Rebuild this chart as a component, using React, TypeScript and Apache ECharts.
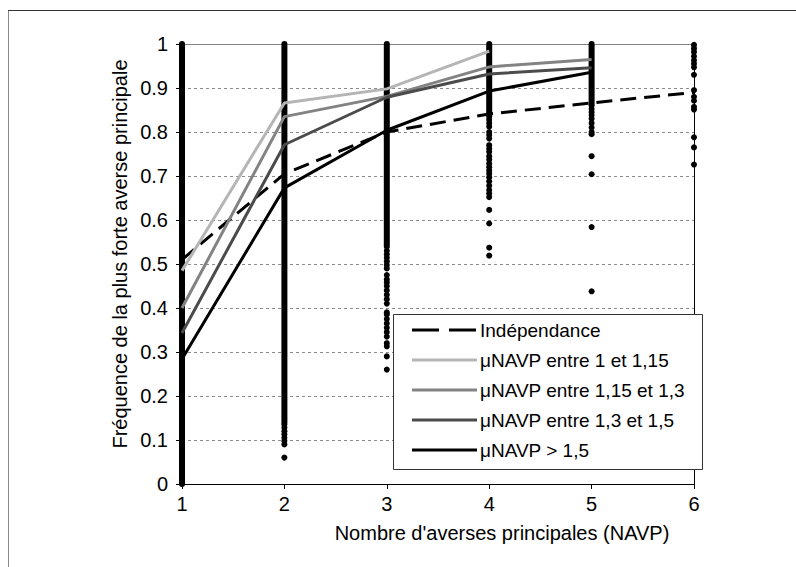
import React, { useEffect, useRef } from "react";
import * as echarts from "echarts";

// Number of principal showers (NAVP) on the x axis
const xTicks = [1, 2, 3, 4, 5, 6];

// Frequency of the strongest principal shower, per class of mean NAVP
const independance = [0.51, 0.705, 0.8, 0.841, 0.866, 0.89];
const mu1to115 = [0.485, 0.866, 0.898, 0.984];
const mu115to13 = [0.4, 0.835, 0.881, 0.948, 0.965];
const mu13to15 = [0.343, 0.771, 0.879, 0.932, 0.946];
const muOver15 = [0.284, 0.673, 0.804, 0.893, 0.936];

// Ranges where the observed stations are so many that they merge into a bar
const denseX = [1, 2, 3, 4, 5];
const denseTop = [1, 1, 1, 1, 1];
const denseBottom = [0, 0.14, 0.54, 0.835, 0.86];

// Isolated observed stations
const obs2 = [0.135, 0.128, 0.12, 0.113, 0.105, 0.098, 0.09, 0.06];
const obs3 = [
  0.53, 0.522, 0.514, 0.506, 0.498, 0.49, 0.475, 0.465, 0.458, 0.45, 0.44,
  0.43, 0.42, 0.41, 0.39, 0.385, 0.375, 0.365, 0.355, 0.345, 0.335, 0.32,
  0.313, 0.29, 0.26,
];
const obs4 = [
  0.828, 0.82, 0.812, 0.8, 0.793, 0.785, 0.77, 0.762, 0.755, 0.745, 0.737,
  0.728, 0.72, 0.712, 0.705, 0.697, 0.688, 0.678, 0.668, 0.66, 0.652, 0.623,
  0.592, 0.537, 0.519,
];
const obs5 = [0.852, 0.845, 0.838, 0.83, 0.82, 0.81, 0.8, 0.795, 0.745, 0.704, 0.584, 0.438];
const obs6 = [
  0.998, 0.99, 0.982, 0.972, 0.963, 0.955, 0.947, 0.93, 0.895, 0.88, 0.871,
  0.857, 0.851, 0.788, 0.765, 0.726,
];

const seriesNames = [
  "Indépendance",
  "μNAVP entre 1 et 1,15",
  "μNAVP entre 1,15 et 1,3",
  "μNAVP entre 1,3 et 1,5",
  "μNAVP > 1,5",
];

const xTitle = "Nombre d'averses principales (NAVP)";
const yTitle = "Fréquence de la plus forte averse principale";

const FONT = "'Liberation Sans', Arial, sans-serif";

const pairs = (ys: number[]) => ys.map((y, i) => [xTicks[i], y]);

export default function App() {
  const ref = useRef<HTMLDivElement>(null);

  useEffect(() => {
    if (!ref.current) return;
    const chart = echarts.init(ref.current, undefined, { renderer: "svg" });

    const observed: number[][] = [
      ...obs2.map((y) => [2, y]),
      ...obs3.map((y) => [3, y]),
      ...obs4.map((y) => [4, y]),
      ...obs5.map((y) => [5, y]),
      ...obs6.map((y) => [6, y]),
    ];

    const denseSeries = denseX.map((x, i) => ({
      type: "line",
      name: "dense" + x,
      data: [
        [x, denseBottom[i]],
        [x, denseTop[i]],
      ],
      symbol: "none",
      silent: true,
      z: 2,
      lineStyle: { color: "#000", width: 6, cap: "round" },
    }));

    const lineStyles = [
      { color: "#000", width: 3, type: [16, 8] as any },
      { color: "#b5b5b5", width: 3, type: "solid" as any },
      { color: "#838383", width: 3, type: "solid" as any },
      { color: "#4b4b4b", width: 3, type: "solid" as any },
      { color: "#000", width: 3, type: "solid" as any },
    ];
    const curves = [independance, mu1to115, mu115to13, mu13to15, muOver15];

    const curveSeries = curves.map((ys, i) => ({
      type: "line",
      name: seriesNames[i],
      data: pairs(ys),
      symbol: "none",
      z: 4,
      lineStyle: lineStyles[i],
      itemStyle: { color: lineStyles[i].color },
    }));

    // Legend box drawn as graphics so the line samples keep their exact styles
    const legLeft = 393;
    const legTop = 314;
    const legWidth = 309;
    const legHeight = 155;
    const rowTop = 330;
    const rowStep = 30;
    const legendItems: any[] = [
      {
        type: "rect",
        silent: true,
        z: 10,
        shape: { x: legLeft + 0.5, y: legTop + 0.5, width: legWidth, height: legHeight },
        style: { fill: "#fff", stroke: "#333", lineWidth: 1 },
      },
    ];
    seriesNames.forEach((name, i) => {
      const y = rowTop + i * rowStep;
      legendItems.push({
        type: "line",
        silent: true,
        z: 11,
        shape: { x1: 412, y1: y, x2: 477, y2: y },
        style: {
          stroke: lineStyles[i].color,
          lineWidth: 3,
          lineDash: i === 0 ? [27, 10] : null,
        },
      });
      legendItems.push({
        type: "text",
        silent: true,
        z: 11,
        x: 480,
        y,
        style: {
          text: name,
          fill: "#000",
          font: `19px ${FONT}`,
          verticalAlign: "middle",
          align: "left",
        },
      });
    });

    chart.setOption({
      animation: false,
      backgroundColor: "#fff",
      textStyle: { fontFamily: FONT },
      grid: { left: 182, top: 44, width: 512, height: 440 },
      xAxis: [
        {
          type: "value",
          min: 1,
          max: 6,
          interval: 1,
          position: "bottom",
          axisLine: { show: true, onZero: false, lineStyle: { color: "#000", width: 1 } },
          axisTick: { show: true, length: 5, lineStyle: { color: "#000" } },
          axisLabel: { fontSize: 20, color: "#000", margin: 10, fontFamily: FONT },
          splitLine: { show: false },
        },
        {
          type: "value",
          min: 1,
          max: 6,
          interval: 1,
          position: "top",
          axisLine: { show: true, onZero: false, lineStyle: { color: "#808080", width: 1 } },
          axisTick: { show: false },
          axisLabel: { show: false },
          splitLine: { show: false },
        },
      ],
      yAxis: [
        {
          type: "value",
          min: 0,
          max: 1,
          interval: 0.1,
          axisLine: { show: true, onZero: false, lineStyle: { color: "#000", width: 1 } },
          axisTick: { show: true, length: 6, lineStyle: { color: "#000" } },
          axisLabel: {
            fontSize: 20,
            color: "#000",
            margin: 14,
            fontFamily: FONT,
            formatter: (v: number) => {
              const s = v.toFixed(1);
              return s === "0.0" ? "0" : s === "1.0" ? "1" : s;
            },
          },
          splitLine: {
            show: true,
            lineStyle: { color: "#8c8c8c", width: 1, type: [3, 3] },
          },
        },
        {
          type: "value",
          min: 0,
          max: 1,
          position: "right",
          axisLine: { show: true, onZero: false, lineStyle: { color: "#000", width: 1 } },
          axisTick: { show: false },
          axisLabel: { show: false },
          splitLine: { show: false },
        },
      ],
      graphic: [
        {
          type: "line",
          silent: true,
          shape: { x1: 8.5, y1: 10.5, x2: 8.5, y2: 567 },
          style: { stroke: "#8a8a8a", lineWidth: 1 },
        },
        {
          type: "line",
          silent: true,
          shape: { x1: 8, y1: 10.5, x2: 796, y2: 10.5 },
          style: { stroke: "#333", lineWidth: 1 },
        },
        {
          type: "text",
          silent: true,
          x: 502,
          y: 533,
          style: {
            text: xTitle,
            fill: "#000",
            font: `20px ${FONT}`,
            align: "center",
            verticalAlign: "middle",
          },
        },
        {
          type: "text",
          silent: true,
          x: 120,
          y: 254,
          rotation: Math.PI / 2,
          style: {
            text: yTitle,
            fill: "#000",
            font: `20px ${FONT}`,
            align: "center",
            verticalAlign: "middle",
          },
        },
        ...legendItems,
      ],
      series: [
        ...denseSeries,
        {
          type: "scatter",
          name: "observations",
          data: observed,
          symbol: "circle",
          symbolSize: 6,
          z: 3,
          itemStyle: { color: "#000", opacity: 1 },
        },
        ...curveSeries,
      ],
    });

    return () => chart.dispose();
  }, []);

  return (
    <div
      ref={ref}
      style={{ position: "fixed", left: 0, top: 0, width: 796, height: 567 }}
    />
  );
}
